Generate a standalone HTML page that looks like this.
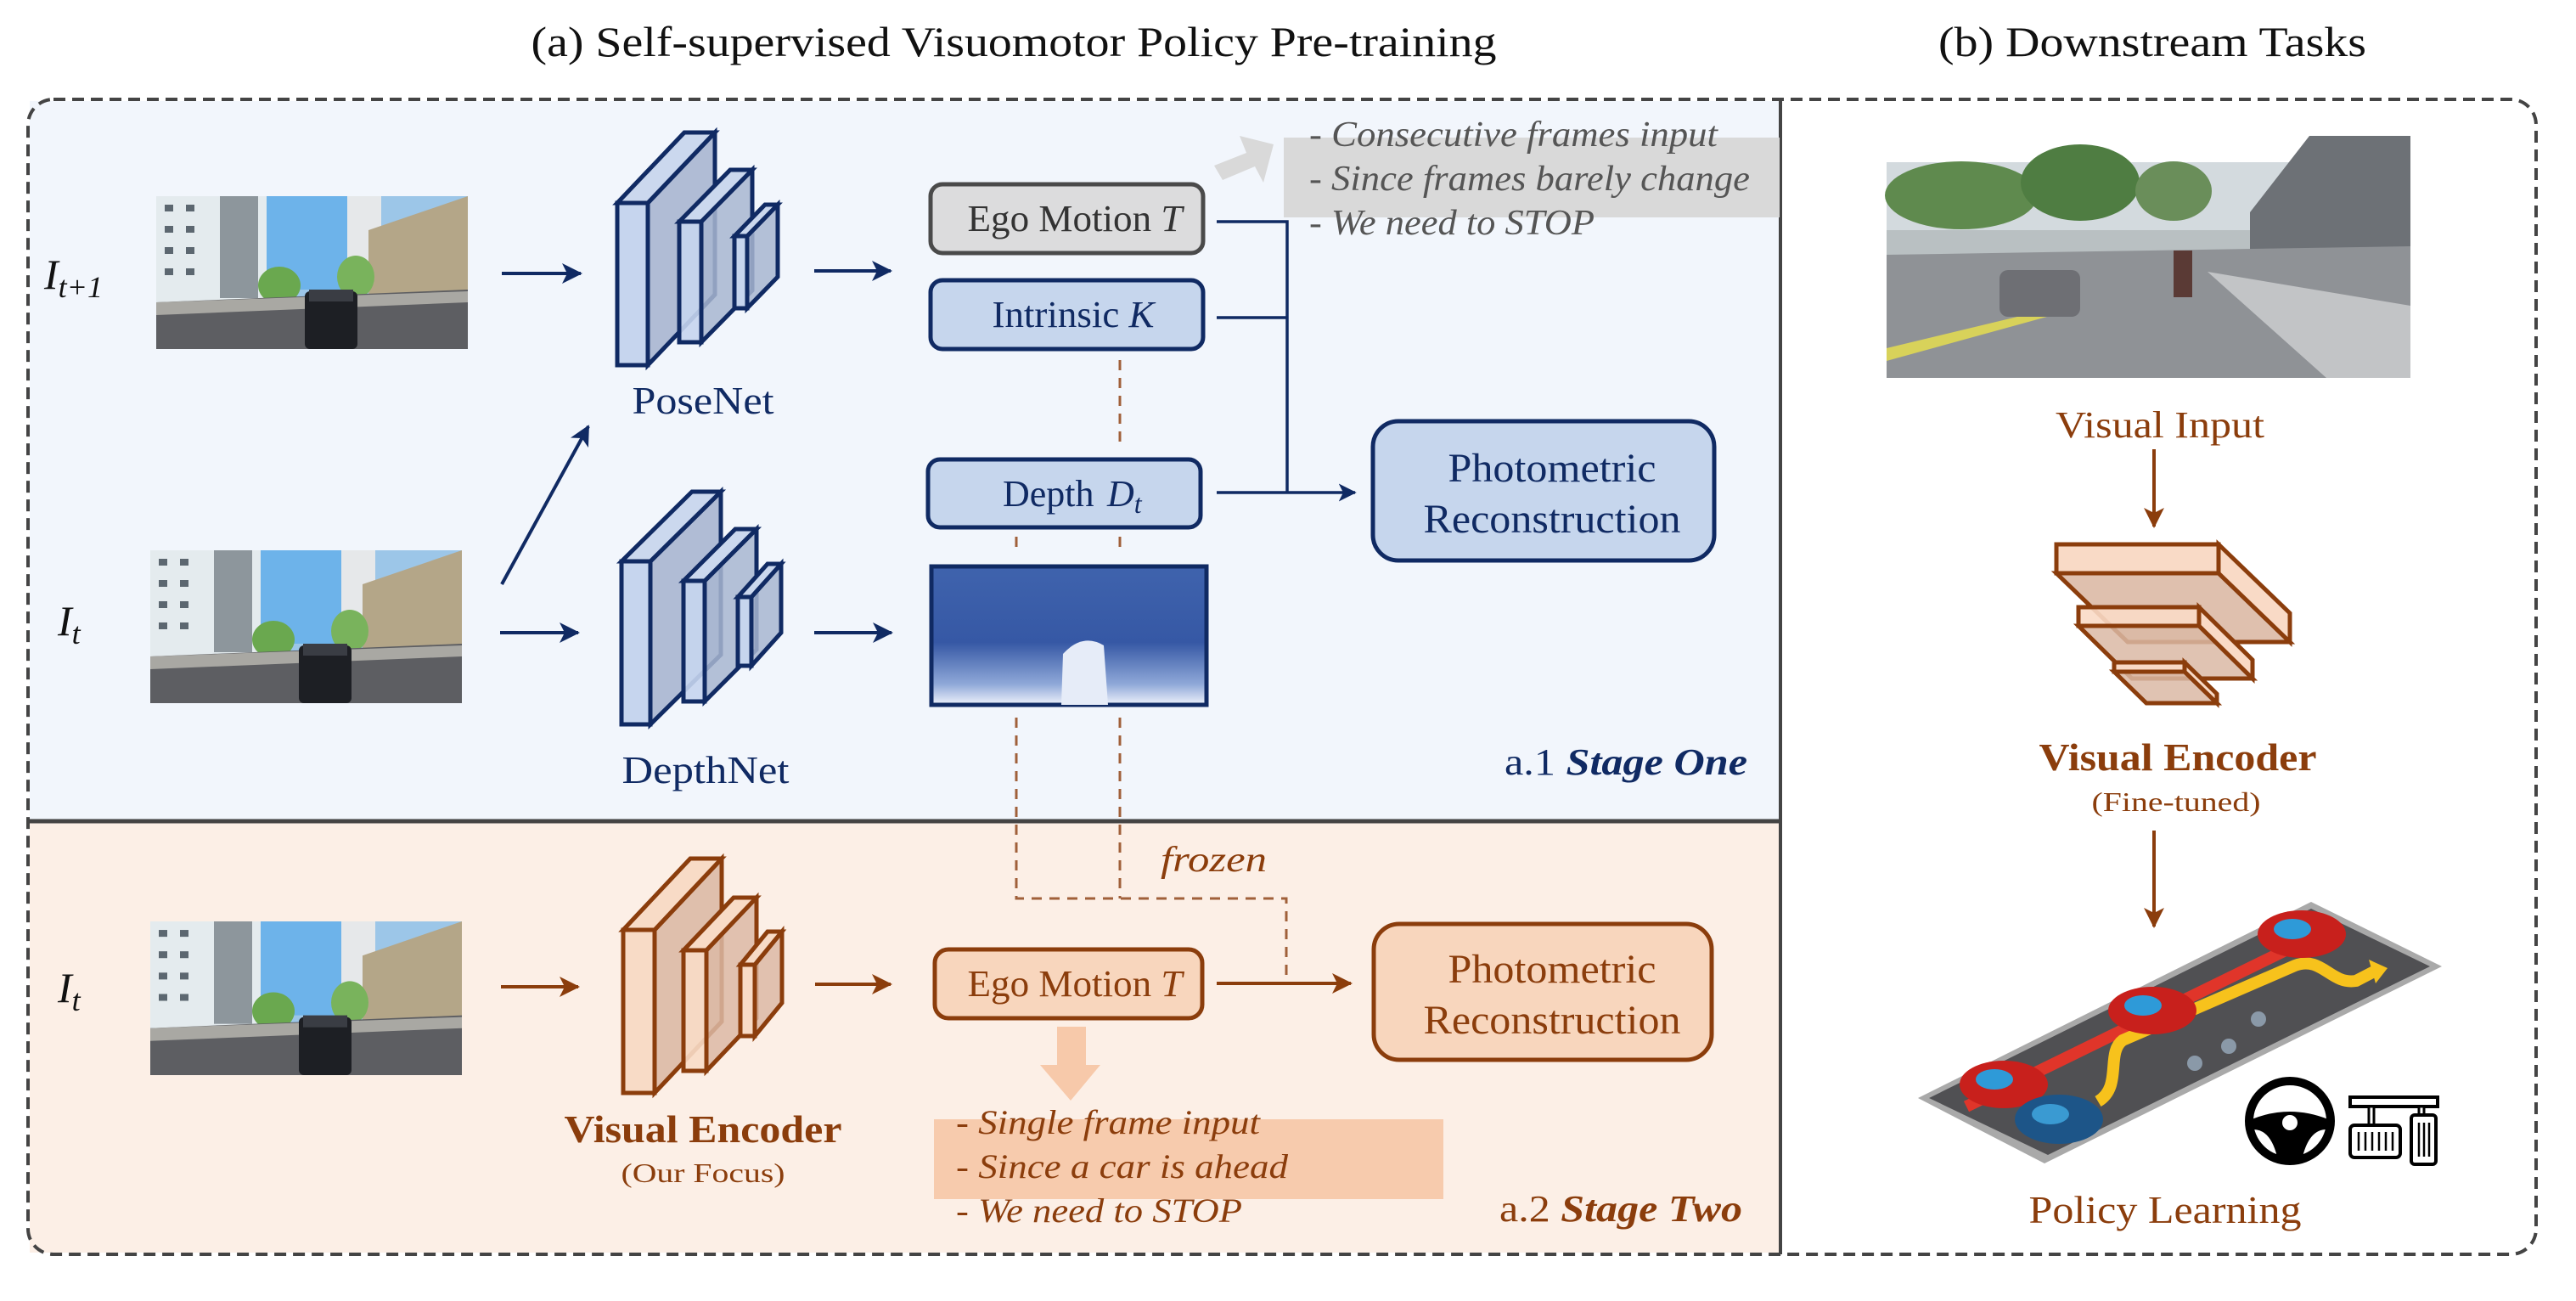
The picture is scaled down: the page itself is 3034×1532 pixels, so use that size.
<!DOCTYPE html>
<html><head><meta charset="utf-8"><style>
html,body{margin:0;padding:0;background:#fff}
svg{display:block}
text{font-family:"Liberation Serif","Times New Roman",serif}
</style></head><body>
<svg width="3034" height="1532" viewBox="0 0 3034 1532" xmlns="http://www.w3.org/2000/svg">
<defs>
<marker id="an" viewBox="0 0 12 12" refX="11" refY="6" markerWidth="6" markerHeight="6" orient="auto" markerUnits="strokeWidth"><path d="M0,0 L12,6 L0,12 L3,6 Z" fill="#102a63"/></marker>
<marker id="ab" viewBox="0 0 12 12" refX="11" refY="6" markerWidth="6" markerHeight="6" orient="auto" markerUnits="strokeWidth"><path d="M0,0 L12,6 L0,12 L3,6 Z" fill="#8b3d0c"/></marker>
<linearGradient id="dm" x1="0" y1="0" x2="0" y2="1"><stop offset="0" stop-color="#3f63ad"/><stop offset="0.55" stop-color="#3658a5"/><stop offset="0.85" stop-color="#8fa8d8"/><stop offset="1" stop-color="#eef2fb"/></linearGradient>
<symbol id="street" viewBox="0 0 367 180" preserveAspectRatio="none">
<rect width="367" height="180" fill="#9cc6e8"/>
<rect x="130" y="0" width="100" height="110" fill="#6db3ea"/>
<rect x="0" y="0" width="130" height="125" fill="#e4ebee"/>
<g fill="#5c6770"><rect x="10" y="10" width="10" height="8"/><rect x="35" y="10" width="10" height="8"/><rect x="10" y="35" width="10" height="8"/><rect x="35" y="35" width="10" height="8"/><rect x="10" y="60" width="10" height="8"/><rect x="35" y="60" width="10" height="8"/><rect x="10" y="85" width="10" height="8"/><rect x="35" y="85" width="10" height="8"/></g>
<rect x="75" y="0" width="45" height="120" fill="#8d969c"/>
<rect x="225" y="0" width="40" height="110" fill="#e6e8ea"/>
<polygon points="250,40 367,0 367,125 250,125" fill="#b4a688"/>
<ellipse cx="145" cy="105" rx="25" ry="22" fill="#6aa84f"/>
<ellipse cx="235" cy="95" rx="22" ry="25" fill="#79b35c"/>
<polygon points="0,125 367,110 367,180 0,180" fill="#5d5e62"/>
<polygon points="0,125 367,112 367,125 0,140" fill="#a9a8a3"/>
<rect x="175" y="112" width="62" height="68" rx="6" fill="#1d1f24"/>
<rect x="180" y="110" width="52" height="14" fill="#3a3d44"/>
</symbol>
</defs>

<!-- titles -->
<text x="1194" y="66" font-size="50" text-anchor="middle" fill="#111" textLength="1137" lengthAdjust="spacingAndGlyphs">(a) Self-supervised Visuomotor Policy Pre-training</text>
<text x="2535" y="66" font-size="50" text-anchor="middle" fill="#111" textLength="504" lengthAdjust="spacingAndGlyphs">(b) Downstream Tasks</text>

<!-- backgrounds -->
<rect x="35" y="119" width="2062" height="847" fill="#f2f6fc"/>
<rect x="35" y="968" width="2062" height="507" fill="#fcefe6"/>
<rect x="33" y="117" width="2954" height="1360" rx="30" fill="none" stroke="#444" stroke-width="4" stroke-dasharray="14 8"/>
<line x1="2097" y1="117" x2="2097" y2="1477" stroke="#444" stroke-width="4"/>
<line x1="35" y1="967" x2="2097" y2="967" stroke="#444" stroke-width="5"/>

<!-- Stage one -->
<text x="52" y="340" font-size="50" font-style="italic" fill="#111">I<tspan font-size="36" dy="10">t+1</tspan></text>
<text x="68" y="748" font-size="50" font-style="italic" fill="#111">I<tspan font-size="36" dy="10">t</tspan></text>
<use href="#street" x="184" y="231" width="367" height="180"/>
<use href="#street" x="177" y="648" width="367" height="180"/>
<line x1="591" y1="322" x2="684" y2="322" stroke="#102a63" stroke-width="4" marker-end="url(#an)"/>
<line x1="589" y1="745" x2="681" y2="745" stroke="#102a63" stroke-width="4" marker-end="url(#an)"/>
<line x1="591" y1="688" x2="693" y2="502" stroke="#102a63" stroke-width="4" marker-end="url(#an)"/>

<g stroke="#102a63" stroke-width="5" stroke-linejoin="miter">
<polygon points="763,239 842,156 842,347 763,430" fill="#a8b6d0" fill-opacity="0.9"/>
<polygon points="727,239 806,156 842,156 763,239" fill="#cbd8ee"/>
<rect x="727" y="239" width="36" height="191" fill="#c6d5ee"/>
<polygon points="826,261 886,200 886,342 826,403" fill="#a8b6d0" fill-opacity="0.85"/>
<polygon points="800,261 860,200 886,200 826,261" fill="#cbd8ee"/>
<rect x="800" y="261" width="26" height="142" fill="#c6d5ee" fill-opacity="0.9"/>
<polygon points="880,278 916,241 916,326 880,363" fill="#a8b6d0" fill-opacity="0.85"/>
<polygon points="865,278 901,241 916,241 880,278" fill="#cbd8ee"/>
<rect x="865" y="278" width="15" height="85" fill="#c6d5ee"/>

<polygon points="766,661 849,579 849,771 766,853" fill="#a8b6d0" fill-opacity="0.9"/>
<polygon points="732,661 815,579 849,579 766,661" fill="#cbd8ee"/>
<rect x="732" y="661" width="34" height="192" fill="#c6d5ee"/>
<polygon points="830,684 891,623 891,765 830,826" fill="#a8b6d0" fill-opacity="0.85"/>
<polygon points="805,684 866,623 891,623 830,684" fill="#cbd8ee"/>
<rect x="805" y="684" width="25" height="142" fill="#c6d5ee" fill-opacity="0.9"/>
<polygon points="885,703 920,664 920,745 885,784" fill="#a8b6d0" fill-opacity="0.85"/>
<polygon points="869,703 904,664 920,664 885,703" fill="#cbd8ee"/>
<rect x="869" y="703" width="16" height="81" fill="#c6d5ee"/>
</g>
<text x="828" y="487" font-size="46" text-anchor="middle" fill="#102a63" textLength="167" lengthAdjust="spacingAndGlyphs">PoseNet</text>
<text x="831" y="922" font-size="46" text-anchor="middle" fill="#102a63" textLength="197" lengthAdjust="spacingAndGlyphs">DepthNet</text>
<line x1="959" y1="319" x2="1049" y2="319" stroke="#102a63" stroke-width="4" marker-end="url(#an)"/>
<line x1="959" y1="745" x2="1050" y2="745" stroke="#102a63" stroke-width="4" marker-end="url(#an)"/>

<!-- dashed brown -->
<g stroke="#a0603a" stroke-width="3" stroke-dasharray="12 9" fill="none">
<line x1="1319" y1="424" x2="1319" y2="527"/>
<line x1="1319" y1="632" x2="1319" y2="650"/>
<line x1="1197" y1="632" x2="1197" y2="650"/>
<polyline points="1319,845 1319,1058"/>
<polyline points="1197,845 1197,1058 1515,1058 1515,1158"/>
</g>

<rect x="1096" y="217" width="321" height="81" rx="14" fill="#dcdcdd" stroke="#4a4a4a" stroke-width="5"/>
<text x="1266" y="272" font-size="44" text-anchor="middle" fill="#333" textLength="253" lengthAdjust="spacingAndGlyphs">Ego Motion <tspan font-style="italic">T</tspan></text>
<rect x="1096" y="330" width="321" height="81" rx="14" fill="#c6d6ed" stroke="#102a63" stroke-width="5"/>
<text x="1264" y="385" font-size="44" text-anchor="middle" fill="#102a63" textLength="191" lengthAdjust="spacingAndGlyphs">Intrinsic <tspan font-style="italic">K</tspan></text>
<rect x="1093" y="541" width="321" height="80" rx="14" fill="#c6d6ed" stroke="#102a63" stroke-width="5"/>
<text x="1181" y="596" font-size="44" fill="#102a63">Depth</text>
<text x="1304" y="596" font-size="44" font-style="italic" fill="#102a63">D<tspan font-size="32" dy="8">t</tspan></text>
<rect x="1097" y="667" width="324" height="163" fill="url(#dm)" stroke="#102a63" stroke-width="5"/>
<path d="M1250,830 L1252,770 Q1275,745 1300,760 L1305,830 Z" fill="#e6ecf8"/>
<g stroke="#102a63" stroke-width="3.5" fill="none">
<polyline points="1433,261 1516,261 1516,580"/>
<line x1="1433" y1="374" x2="1516" y2="374"/>
<line x1="1433" y1="580" x2="1596" y2="580" marker-end="url(#an)"/>
</g>
<rect x="1617" y="496" width="402" height="164" rx="30" fill="#c6d6ed" stroke="#102a63" stroke-width="5"/>
<text x="1828" y="567" font-size="48" text-anchor="middle" fill="#102a63" textLength="245" lengthAdjust="spacingAndGlyphs">Photometric</text>
<text x="1828" y="627" font-size="48" text-anchor="middle" fill="#102a63" textLength="303" lengthAdjust="spacingAndGlyphs">Reconstruction</text>

<rect x="1512" y="162" width="584" height="94" fill="#d9d9d9"/>
<polygon points="1430,195 1468,180 1460,160 1500,170 1488,215 1478,196 1440,212" fill="#d9d9d9"/>
<g font-size="42" font-style="italic" fill="#555">
<text x="1542" y="172" textLength="481" lengthAdjust="spacingAndGlyphs">- Consecutive frames input</text>
<text x="1542" y="224" textLength="519" lengthAdjust="spacingAndGlyphs">- Since frames barely change</text>
<text x="1542" y="276" textLength="336" lengthAdjust="spacingAndGlyphs">- We need to STOP</text>
</g>
<text x="1772" y="912" font-size="44" fill="#102a63" textLength="286" lengthAdjust="spacingAndGlyphs">a.1 <tspan font-weight="bold" font-style="italic">Stage One</tspan></text>

<!-- Stage two -->
<text x="68" y="1180" font-size="50" font-style="italic" fill="#111">I<tspan font-size="36" dy="10">t</tspan></text>
<use href="#street" x="177" y="1085" width="367" height="181"/>
<line x1="590" y1="1162" x2="681" y2="1162" stroke="#8b3d0c" stroke-width="4" marker-end="url(#ab)"/>
<g stroke="#8b3d0c" stroke-width="5">
<polygon points="771,1095 850,1011 850,1203 771,1287" fill="#dcb9a5" fill-opacity="0.9"/>
<polygon points="734,1095 813,1011 850,1011 771,1095" fill="#f8dbc6"/>
<rect x="734" y="1095" width="37" height="192" fill="#f8dbc6"/>
<polygon points="832,1119 891,1057 891,1199 832,1261" fill="#dcb9a5" fill-opacity="0.85"/>
<polygon points="805,1119 864,1057 891,1057 832,1119" fill="#f8dbc6"/>
<rect x="805" y="1119" width="27" height="142" fill="#f8dbc6" fill-opacity="0.9"/>
<polygon points="889,1136 921,1097 921,1181 889,1220" fill="#dcb9a5" fill-opacity="0.85"/>
<polygon points="872,1136 904,1097 921,1097 889,1136" fill="#f8dbc6"/>
<rect x="872" y="1136" width="17" height="84" fill="#f8dbc6"/>
</g>
<text x="828" y="1345" font-size="46" font-weight="bold" text-anchor="middle" fill="#8b3d0c" textLength="327" lengthAdjust="spacingAndGlyphs">Visual Encoder</text>
<text x="828" y="1392" font-size="32" text-anchor="middle" fill="#8b3d0c" textLength="193" lengthAdjust="spacingAndGlyphs">(Our Focus)</text>
<line x1="960" y1="1159" x2="1049" y2="1159" stroke="#8b3d0c" stroke-width="4" marker-end="url(#ab)"/>
<rect x="1101" y="1118" width="315" height="81" rx="16" fill="#f8d6bd" stroke="#8b3d0c" stroke-width="5"/>
<text x="1266" y="1173" font-size="44" text-anchor="middle" fill="#8b3d0c" textLength="253" lengthAdjust="spacingAndGlyphs">Ego Motion <tspan font-style="italic">T</tspan></text>
<line x1="1433" y1="1158" x2="1591" y2="1158" stroke="#8b3d0c" stroke-width="4" marker-end="url(#ab)"/>
<rect x="1618" y="1088" width="398" height="160" rx="30" fill="#f8d6bd" stroke="#8b3d0c" stroke-width="5"/>
<text x="1828" y="1157" font-size="48" text-anchor="middle" fill="#8b3d0c" textLength="245" lengthAdjust="spacingAndGlyphs">Photometric</text>
<text x="1828" y="1217" font-size="48" text-anchor="middle" fill="#8b3d0c" textLength="303" lengthAdjust="spacingAndGlyphs">Reconstruction</text>
<text x="1367" y="1026" font-size="42" font-style="italic" fill="#8b3d0c" textLength="125" lengthAdjust="spacingAndGlyphs">frozen</text>
<polygon points="1245,1209 1279,1209 1279,1254 1296,1254 1261,1296 1225,1254 1245,1254" fill="#f7c9aa"/>
<rect x="1100" y="1318" width="600" height="94" fill="#f7cbad"/>
<g font-size="40" font-style="italic" fill="#8b3d0c">
<text x="1126" y="1335" textLength="358" lengthAdjust="spacingAndGlyphs">- Single frame input</text>
<text x="1126" y="1387" textLength="391" lengthAdjust="spacingAndGlyphs">- Since a car is ahead</text>
<text x="1126" y="1439" textLength="337" lengthAdjust="spacingAndGlyphs">- We need to STOP</text>
</g>
<text x="1766" y="1438" font-size="44" fill="#8b3d0c" textLength="286" lengthAdjust="spacingAndGlyphs">a.2 <tspan font-weight="bold" font-style="italic">Stage Two</tspan></text>

<!-- (b) -->
<rect x="2222" y="191" width="617" height="254" fill="#b9c0c2"/>
<rect x="2222" y="191" width="617" height="80" fill="#d3dade"/>
<ellipse cx="2310" cy="230" rx="90" ry="40" fill="#5f8a4e"/>
<ellipse cx="2450" cy="215" rx="70" ry="45" fill="#4f7d42"/>
<ellipse cx="2560" cy="225" rx="45" ry="35" fill="#6a8e5a"/>
<polygon points="2650,250 2720,160 2839,160 2839,330 2650,300" fill="#6d7176"/>
<polygon points="2222,300 2839,290 2839,445 2222,445" fill="#8f9296"/>
<polygon points="2222,410 2430,360 2440,365 2222,425" fill="#d8d25a"/>
<polygon points="2600,320 2839,360 2839,445 2740,445" fill="#c2c4c6"/>
<rect x="2355" y="318" width="95" height="55" rx="10" fill="#6e6f74"/>
<rect x="2560" y="295" width="22" height="55" fill="#5a3a35"/>
<text x="2544" y="515" font-size="44" text-anchor="middle" fill="#8b3d0c" textLength="246" lengthAdjust="spacingAndGlyphs">Visual Input</text>
<line x1="2537" y1="529" x2="2537" y2="620" stroke="#8b3d0c" stroke-width="4" marker-end="url(#ab)"/>
<g stroke="#8b3d0c" stroke-width="5">
<polygon points="2422,675 2613,675 2697,756 2506,756" fill="#dbb9a5" fill-opacity="0.9"/>
<polygon points="2613,641 2697,722 2697,756 2613,675" fill="#f9dac6"/>
<rect x="2422" y="641" width="191" height="34" fill="#f9dac6"/>
<polygon points="2448,737 2590,737 2653,799 2511,799" fill="#dbb9a5" fill-opacity="0.85"/>
<polygon points="2590,715 2653,777 2653,799 2590,737" fill="#f9dac6"/>
<rect x="2448" y="715" width="142" height="22" fill="#f9dac6" fill-opacity="0.9"/>
<polygon points="2490,791 2573,791 2611,828 2528,828" fill="#dbb9a5" fill-opacity="0.85"/>
<polygon points="2573,780 2611,817 2611,828 2573,791" fill="#f9dac6"/>
<rect x="2490" y="780" width="83" height="11" fill="#f9dac6"/>
</g>
<text x="2565" y="907" font-size="46" font-weight="bold" text-anchor="middle" fill="#8b3d0c" textLength="327" lengthAdjust="spacingAndGlyphs">Visual Encoder</text>
<text x="2563" y="955" font-size="32" text-anchor="middle" fill="#8b3d0c" textLength="199" lengthAdjust="spacingAndGlyphs">(Fine-tuned)</text>
<line x1="2537" y1="978" x2="2537" y2="1091" stroke="#8b3d0c" stroke-width="4" marker-end="url(#ab)"/>

<polygon points="2259,1293 2722,1062 2876,1138 2408,1370" fill="#a9a9a9"/>
<polygon points="2272,1293 2722,1070 2862,1138 2412,1360" fill="#505053"/>
<line x1="2316" y1="1303" x2="2690" y2="1120" stroke="#e0352a" stroke-width="14"/>
<path d="M2471,1297 C2500,1280 2480,1240 2500,1225 L2703,1137 C2735,1125 2745,1160 2775,1155 L2800,1142" fill="none" stroke="#f7c21c" stroke-width="14"/>
<polygon points="2790,1130 2812,1140 2798,1158" fill="#f7c21c"/>
<g fill="#c8201c"><ellipse cx="2711" cy="1100" rx="52" ry="28"/><ellipse cx="2535" cy="1190" rx="52" ry="28"/><ellipse cx="2360" cy="1277" rx="52" ry="28"/></g>
<g fill="#2e9ad8"><ellipse cx="2700" cy="1094" rx="22" ry="12"/><ellipse cx="2524" cy="1184" rx="22" ry="12"/><ellipse cx="2349" cy="1271" rx="22" ry="12"/></g>
<ellipse cx="2425" cy="1318" rx="52" ry="29" fill="#1d5588"/>
<ellipse cx="2415" cy="1312" rx="22" ry="12" fill="#3a9ad2"/>
<g fill="#8a99a8"><circle cx="2585" cy="1252" r="9"/><circle cx="2625" cy="1232" r="9"/><circle cx="2660" cy="1200" r="9"/></g>
<ellipse cx="2697" cy="1320" rx="48" ry="47" fill="none" stroke="#000" stroke-width="10"/>
<path d="M2652,1318 Q2697,1300 2742,1318 L2740,1330 Q2720,1330 2712,1362 L2682,1362 Q2674,1330 2654,1330 Z" fill="#000"/>
<circle cx="2697" cy="1322" r="9" fill="#fff"/>
<rect x="2768" y="1292" width="103" height="11" fill="#fff" stroke="#000" stroke-width="4"/>
<rect x="2790" y="1303" width="6" height="22" fill="#fff" stroke="#000" stroke-width="3"/>
<rect x="2849" y="1303" width="6" height="12" fill="#fff" stroke="#000" stroke-width="3"/>
<rect x="2768" y="1325" width="59" height="38" rx="5" fill="#fff" stroke="#000" stroke-width="4"/>
<rect x="2840" y="1313" width="29" height="58" rx="4" fill="#fff" stroke="#000" stroke-width="4"/>
<g stroke="#000" stroke-width="2.5"><line x1="2778" y1="1333" x2="2778" y2="1355"/><line x1="2786" y1="1333" x2="2786" y2="1355"/><line x1="2794" y1="1333" x2="2794" y2="1355"/><line x1="2802" y1="1333" x2="2802" y2="1355"/><line x1="2810" y1="1333" x2="2810" y2="1355"/><line x1="2818" y1="1333" x2="2818" y2="1355"/><line x1="2849" y1="1322" x2="2849" y2="1362"/><line x1="2855" y1="1322" x2="2855" y2="1362"/><line x1="2861" y1="1322" x2="2861" y2="1362"/></g>
<text x="2550" y="1440" font-size="46" text-anchor="middle" fill="#8b3d0c" textLength="321" lengthAdjust="spacingAndGlyphs">Policy Learning</text>
</svg>
</body></html>
